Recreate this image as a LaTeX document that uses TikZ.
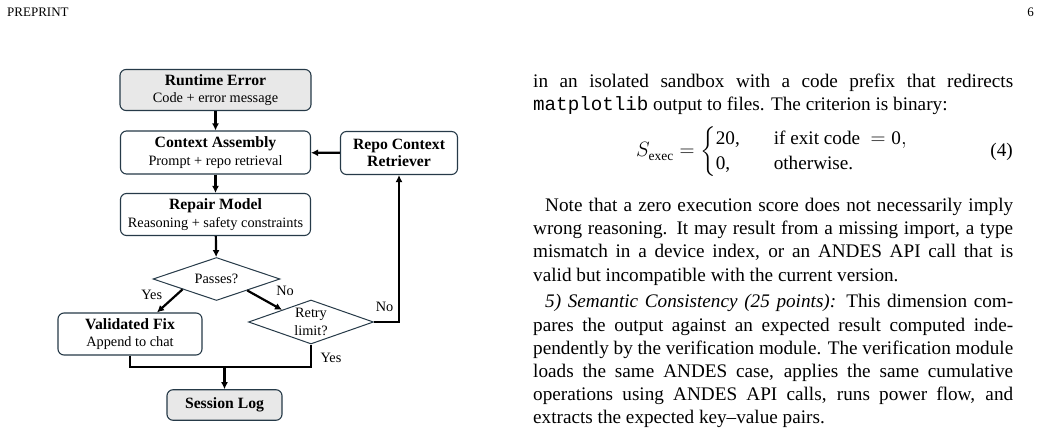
\documentclass[tikz,border=0pt]{standalone}
\usepackage{amsmath}
\usepackage{fontspec}
\setmainfont{Liberation Serif}
\newfontfamily\courfont{Liberation Mono}
\usetikzlibrary{arrows.meta,shapes.geometric,calc}
\definecolor{bordc}{RGB}{38,58,72}
\definecolor{boxgray}{RGB}{232,232,232}
\newcommand{\ttl}[1]{{\fontsize{15.7}{17.5}\selectfont\bfseries #1}}
\tikzset{
  proc/.style={draw=bordc, line width=1.1pt, rounded corners=6pt, fill=white,
    align=center, inner sep=0pt, font=\fontsize{14.3}{17.5}\selectfont},
  termbox/.style={proc, fill=boxgray},
  dec/.style={diamond, draw=bordc, line width=1pt, inner sep=0pt, align=center,
    font=\fontsize{14.3}{17.5}\selectfont},
  flow/.style={-{Latex[length=7pt,width=7pt]}, line width=2.2pt, black},
  wire/.style={line width=2.2pt, black},
  lbl/.style={font=\fontsize{14.3}{17}\selectfont, inner sep=0pt},
  bodyline/.style={anchor=base west, inner sep=0pt, font=\fontsize{19.2}{23}\selectfont},
  hdr/.style={inner sep=0pt, font=\fontsize{13}{16}\selectfont},
}
\newcommand{\jl}[2][480pt]{\makebox[#1][s]{#2}}
\begin{document}
\begin{tikzpicture}[x=1pt,y=-1pt]
\path[use as bounding box, fill=white] (0,0) rectangle (1041,438);

% header
\node[hdr, anchor=base west] (hl) at (7,17) {PREPRINT};
\node[hdr, anchor=base east] (hr) at (1034,17) {6};

% flowchart nodes
\node[termbox, minimum width=191pt, minimum height=41pt] (err) at (215.5,90)
  {\ttl{Runtime Error}\\Code + error message};
\node[proc, minimum width=190pt, minimum height=43pt] (ctx) at (215.5,152.5)
  {\ttl{Context Assembly}\\Prompt + repo retrieval};
\node[proc, minimum width=190pt, minimum height=42pt] (rep) at (215.5,214.5)
  {\ttl{Repair Model}\\Reasoning + safety constraints};
\node[proc, minimum width=117pt, minimum height=43pt] (repo) at (399,153)
  {\ttl{Repo Context}\\\ttl{Retriever}};
\node[dec, minimum width=127pt, minimum height=43pt, aspect=2.95] (pass) at (216.5,279)
  {Passes?};
\node[dec, minimum width=125pt, minimum height=44pt, aspect=2.84] (retry) at (311,322)
  {Retry\\limit?};
\node[proc, minimum width=144pt, minimum height=42pt] (val) at (130,334)
  {\ttl{Validated Fix}\\Append to chat};
\node[termbox, minimum width=115pt, minimum height=30.5pt] (log) at (224.5,405)
  {\ttl{Session Log}};

\coordinate (mrg) at (224.5,367);

% connectors
\draw[flow] (err) -- (ctx);
\draw[flow] (ctx) -- (rep);
\draw[flow] (rep) -- (pass);
\draw[flow] (repo) -- (ctx);
\draw[flow] ($(pass.west)!0.47!(pass.south)$) -- ([xshift=27pt]val.north);
\draw[flow] ($(pass.east)!0.52!(pass.south)$) -- ($(retry.west)!0.54!(retry.north)$);
\draw[flow] (retry.east) -| (repo.south);
\draw[wire] (val.south) |- (mrg) -| (retry.south);
\draw[flow] (mrg) -- (log.north);

% labels
\node[lbl] (lyes1) at (151.7,295) {Yes};
\node[lbl] (lno1) at (285,291) {No};
\node[lbl] (lno2) at (384.5,306.5) {No};
\node[lbl] (lyes2) at (331,358) {Yes};

% right column text
\node[bodyline] (t1) at (533,88) {\jl{in an isolated sandbox with a code prefix that redirects}};
\node[bodyline] (t2) at (533,111) {{\courfont matplotlib} output to files. The criterion is binary:};
\node[inner sep=0pt, anchor=west, font=\fontsize{19.2}{23}\selectfont] (eq) at (636,152)
  {$S_{\text{exec}} = \left\{\rule[-21pt]{0pt}{52pt}\renewcommand{\arraystretch}{1.08}\begin{array}{@{}l@{\hspace{34pt}}l@{}} \text{20,} & \text{if exit code } = \text{0},\\ \text{0,} & \text{otherwise.}\end{array}\right.$};
\node[inner sep=0pt, anchor=east, font=\fontsize{19.2}{23}\selectfont] (eqn) at (1013,152) {(4)};
\node[bodyline] (t3) at (545,212) {\jl[468pt]{Note that a zero execution score does not necessarily imply}};
\node[bodyline] (t4) at (533,235) {\jl{wrong reasoning. It may result from a missing import, a type}};
\node[bodyline] (t5) at (533,258) {\jl{mismatch in a device index, or an ANDES API call that is}};
\node[bodyline] (t6) at (533,281) {valid but incompatible with the current version.};
\node[bodyline] (t7) at (545,308) {\jl[468pt]{\textit{5) Semantic Consistency (25 points):} This dimension com-}};
\node[bodyline] (t8) at (533,331) {\jl{pares the output against an expected result computed inde-}};
\node[bodyline] (t9) at (533,354) {\jl{pendently by the verification module. The verification module}};
\node[bodyline] (t10) at (533,377) {\jl{loads the same ANDES case, applies the same cumulative}};
\node[bodyline] (t11) at (533,400) {\jl{operations using ANDES API calls, runs power flow, and}};
\node[bodyline] (t12) at (533,423) {extracts the expected key--value pairs.};
\end{tikzpicture}
\end{document}
